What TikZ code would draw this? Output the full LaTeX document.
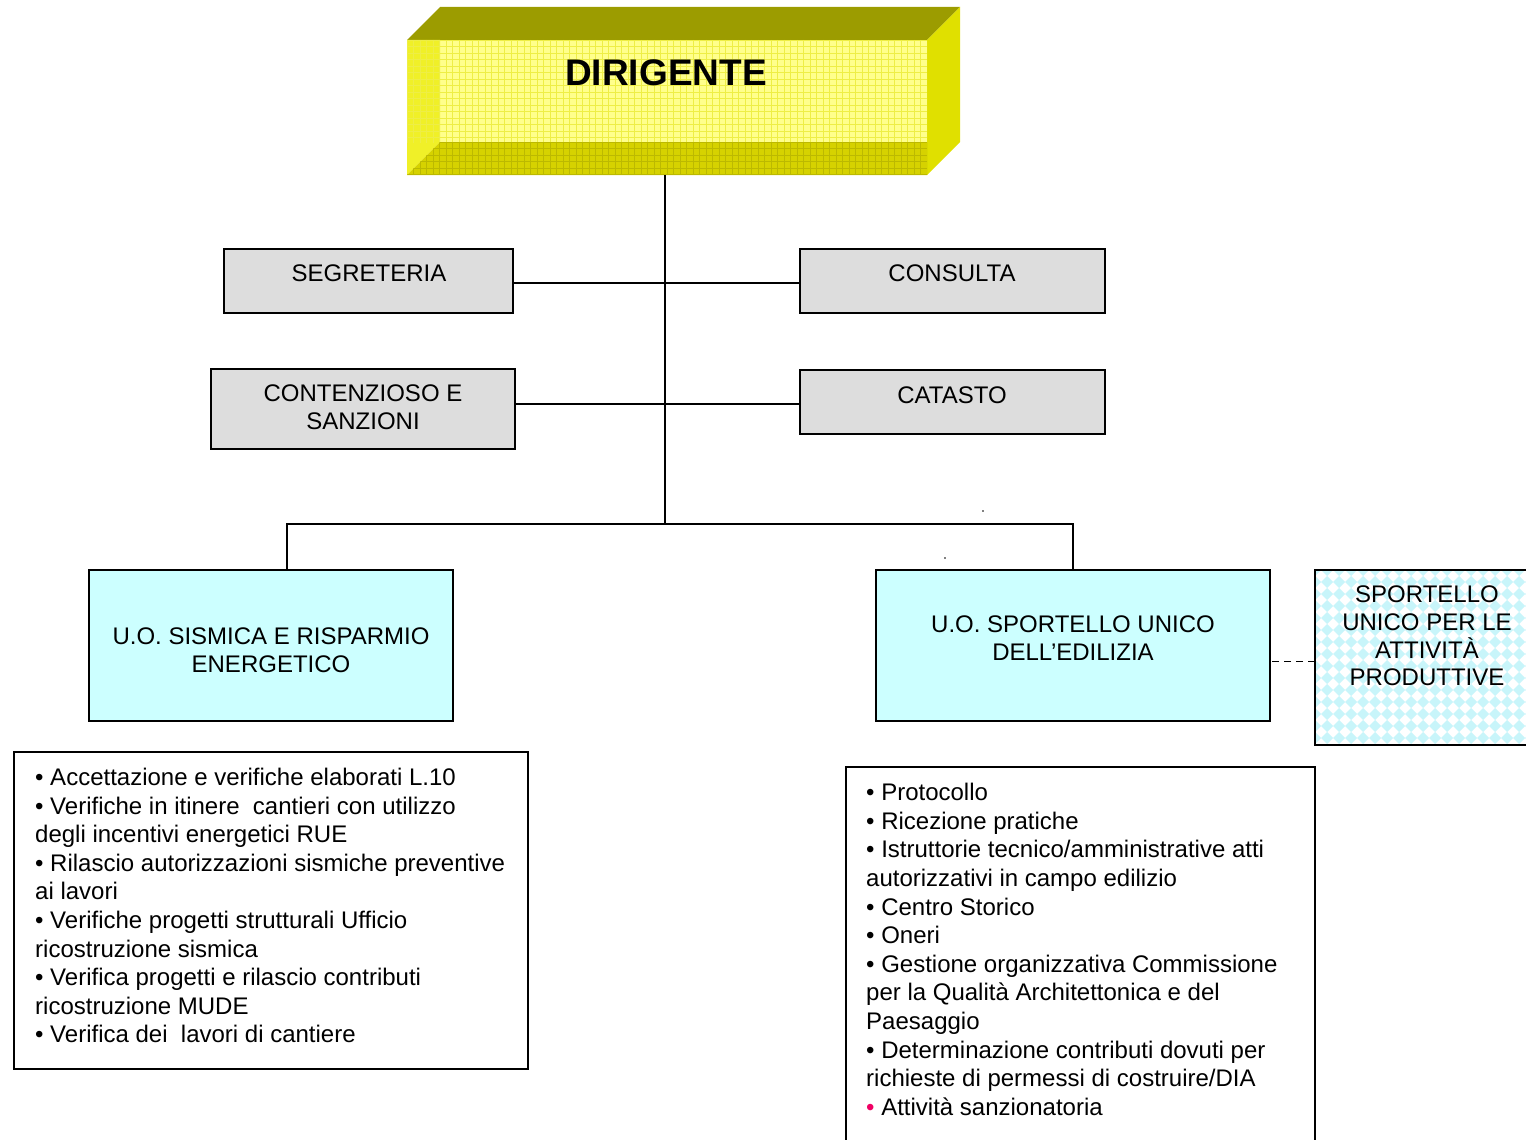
\documentclass[tikz,border=0pt]{standalone}
\usepackage{fontspec}
\setmainfont{Liberation Sans}
\definecolor{grayfill}{RGB}{221,221,221}
\definecolor{cyanfill}{RGB}{204,255,255}
\definecolor{diam}{RGB}{200,245,250}
\definecolor{topolive}{RGB}{156,156,0}
\definecolor{rightyel}{RGB}{224,224,0}
\definecolor{frontlight}{RGB}{255,255,140}
\definecolor{leftyel}{RGB}{240,240,40}
\definecolor{bottomyel}{RGB}{214,210,0}
\definecolor{gridyel}{RGB}{238,238,70}
\definecolor{redbullet}{RGB}{240,0,100}
\begin{document}
\begin{tikzpicture}[x=1pt,y=-1pt,
  boxbase/.style={draw=black, line width=1.6pt, inner sep=0pt, outer sep=0pt, anchor=north west},
  graybox/.style={boxbase, fill=grayfill},
  cyanbox/.style={boxbase, fill=cyanfill},
  listbox/.style={boxbase, fill=white},
  lbl/.style={font=\fontsize{24}{28}\selectfont, align=center, inner sep=0pt},
  listtxt/.style={font=\fontsize{24}{28.6}\selectfont, align=left, inner sep=0pt, anchor=north west},
  conn/.style={draw=black, line width=1.5pt}]
\useasboundingbox (0,0) rectangle (1526,1140);

% ---------- DIRIGENTE 3D box ----------
\node[inner sep=0pt, outer sep=0pt, anchor=north west, minimum width=520, minimum height=135] (dir) at (407,40) {};
\fill[topolive] (407,40) -- (440,7) -- (960,7) -- (927,40) -- cycle;
\fill[rightyel] (927,40) -- (960,7) -- (960,142) -- (927,175) -- cycle;
\fill[frontlight] (440,40) rectangle (927,142);
\fill[leftyel] (407,40) -- (440,40) -- (440,142) -- (407,175) -- cycle;
\fill[bottomyel] (407,175) -- (440,142) -- (927,142) -- (927,175) -- cycle;
\begin{scope}
  \clip (407,40) rectangle (927,142);
  \foreach \k in {0,...,81} \draw[gridyel, line width=0.5pt] ({407+6.5*\k},40) -- ({407+6.5*\k},175);
  \foreach \k in {0,...,21} \draw[gridyel, line width=0.5pt] (407,{40+6.5*\k}) -- (927,{40+6.5*\k});
\end{scope}
\begin{scope}
  \clip (407,175) -- (440,142) -- (927,142) -- (927,175) -- cycle;
  \foreach \k in {0,...,81} \draw[bottomyel!88!black, line width=0.4pt] ({407+6.5*\k},142) -- ({407+6.5*\k},175);
  \foreach \k in {0,...,5} \draw[bottomyel!88!black, line width=0.4pt] (407,{142+6.5*\k}) -- (927,{142+6.5*\k});
\end{scope}
\node[font=\fontsize{37}{44}\selectfont\bfseries, inner sep=0pt] (dirt) at (666,73) {DIRIGENTE};

% ---------- staff boxes ----------
\node[graybox, minimum width=289, minimum height=64] (seg) at (224,249) {};
\node[lbl] (segt) at (369,273) {SEGRETERIA};
\node[graybox, minimum width=305, minimum height=64] (cons) at (800,249) {};
\node[lbl] (const) at (952,273) {CONSULTA};
\node[graybox, minimum width=304, minimum height=80] (cont) at (211,369) {};
\node[lbl] (contt) at (363,407) {CONTENZIOSO E\\SANZIONI};
\node[graybox, minimum width=305, minimum height=64] (cat) at (800,370) {};
\node[lbl] (catt) at (952,395) {CATASTO};

% ---------- units ----------
\node[cyanbox, minimum width=364, minimum height=151] (sis) at (89,570) {};
\node[lbl] (sist) at (271,650) {U.O. SISMICA E RISPARMIO\\ENERGETICO};
\node[cyanbox, minimum width=394, minimum height=151] (spo) at (876,570) {};
\node[lbl] (spot) at (1073,638) {U.O. SPORTELLO UNICO\\DELL’EDILIZIA};

% SUAP box with diamond pattern
\begin{scope}
  \clip (1315,570) rectangle (1540,745);
  \fill[white] (1315,570) rectangle (1540,745);
  \foreach \i in {0,...,20} {
    \foreach \j in {0,...,16} {
      \fill[diam] ({1315+12*\i},{570+12*\j}) +(-6,0) -- +(0,-6) -- +(6,0) -- +(0,6) -- cycle;
    }
  }
\end{scope}
\node[boxbase, minimum width=225, minimum height=175] (suap) at (1315,570) {};
\node[lbl, font=\fontsize{24}{27.7}\selectfont] (suapt) at (1427,636) {SPORTELLO\\UNICO PER LE\\ATTIVITÀ\\PRODUTTIVE};

% ---------- connectors ----------
\coordinate (j) at (665,524);
\coordinate (jl) at (287,524);
\draw[conn] (j |- dir.south) -- (j);
\draw[conn] ([yshift=-2pt]seg.east) -- ([yshift=-2pt]cons.west);
\draw[conn] ([yshift=-2pt]cat.west) -- ([yshift=-2pt]cat.west -| cont.east);
\draw[conn] (jl |- sis.north) -- (jl) -- (j) -| (spo.north);
\draw[conn, line width=1.2pt, dash pattern=on 7pt off 5pt] ([yshift=-4pt]suap.west) -- ([yshift=-4pt]suap.west -| spo.east);

% stray dots
\fill (983,511) circle (0.9);
\fill (945,558) circle (0.9);

% ---------- task lists ----------
\node[listbox, minimum width=514, minimum height=317] (lbox) at (14,752) {};
\node[listtxt] (ltxt) at (35,767.8) {%
• Accettazione e verifiche elaborati L.10\\
• Verifiche in itinere\ \ cantieri con utilizzo\\
degli incentivi energetici RUE\\
• Rilascio autorizzazioni sismiche preventive\\
ai lavori\\
• Verifiche progetti strutturali Ufficio\\
ricostruzione sismica\\
• Verifica progetti e rilascio contributi\\
ricostruzione MUDE\\
• Verifica dei\ \ lavori di cantiere};

\node[listbox, minimum width=469, minimum height=400] (rbox) at (846,767) {};
\node[listtxt] (rtxt) at (866,783) {%
• Protocollo\\
• Ricezione pratiche\\
• Istruttorie tecnico/amministrative atti\\
autorizzativi in campo edilizio\\
• Centro Storico\\
• Oneri\\
• Gestione organizzativa Commissione\\
per la Qualità Architettonica e del\\
Paesaggio\\
• Determinazione contributi dovuti per\\
richieste di permessi di costruire/DIA\\
\textcolor{redbullet}{•} Attività sanzionatoria};
\end{tikzpicture}
\end{document}
